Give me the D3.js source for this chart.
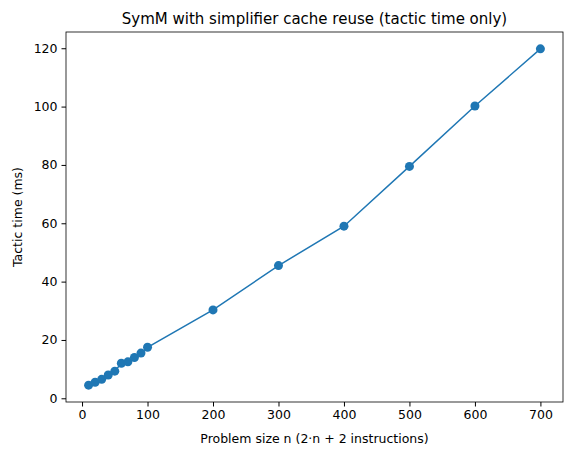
<!DOCTYPE html><html><head><script src="https://cdn.jsdelivr.net/npm/d3@7"></script>
<style>body{margin:0;background:#fff}text{font-family:"DejaVu Sans",sans-serif}</style></head><body>
<script>
const sizes=[10,20,30,40,50,60,70,80,90,100,200,300,400,500,600,700];
const times=[4.5,5.5,6.5,8,9.3,12,12.5,14,15.5,17.5,30.3,45.5,59,79.5,100.2,119.8];
const xTicks=[0,100,200,300,400,500,600,700];
const yTicks=[0,20,40,60,80,100,120];
const W=571,H=455,L=66,R=563,T=32,B=402;
const svg=d3.select("body").append("svg").attr("width",W).attr("height",H);
const x=d3.scaleLinear().domain([-24.5,734.5]).range([L,R]);
const y=d3.scaleLinear().domain([-1.27,125.57]).range([B,T]);
svg.append("g").attr("transform",`translate(0,${B})`).call(d3.axisBottom(x).tickValues(xTicks).tickSize(4.5).tickPadding(4)).call(g=>g.select(".domain").remove());
svg.append("g").attr("transform",`translate(${L},0)`).call(d3.axisLeft(y).tickValues(yTicks).tickSize(4.5).tickPadding(4)).call(g=>g.select(".domain").remove());
svg.selectAll(".tick text").attr("font-size",12.5).attr("fill","#000");
svg.append("rect").attr("x",L).attr("y",T).attr("width",R-L).attr("height",B-T).attr("fill","none").attr("stroke","#000").attr("stroke-width",0.8);
const pts=sizes.map((s,i)=>[s,times[i]]);
svg.append("path").datum(pts).attr("fill","none").attr("stroke","#1f77b4").attr("stroke-width",1.5).attr("d",d3.line().x(d=>x(d[0])).y(d=>y(d[1])));
svg.selectAll("circle.p").data(pts).enter().append("circle").attr("cx",d=>x(d[0])).attr("cy",d=>y(d[1])).attr("r",4.5).attr("fill","#1f77b4");
svg.append("text").attr("x",(L+R)/2).attr("y",T-8).attr("text-anchor","middle").attr("font-size",15).text("SymM with simplifier cache reuse (tactic time only)");
svg.append("text").attr("x",(L+R)/2).attr("y",443).attr("text-anchor","middle").attr("font-size",12.5).text("Problem size n (2·n + 2 instructions)");
svg.append("text").attr("transform",`translate(22,${(T+B)/2}) rotate(-90)`).attr("text-anchor","middle").attr("font-size",12.5).text("Tactic time (ms)");
</script></body></html>
